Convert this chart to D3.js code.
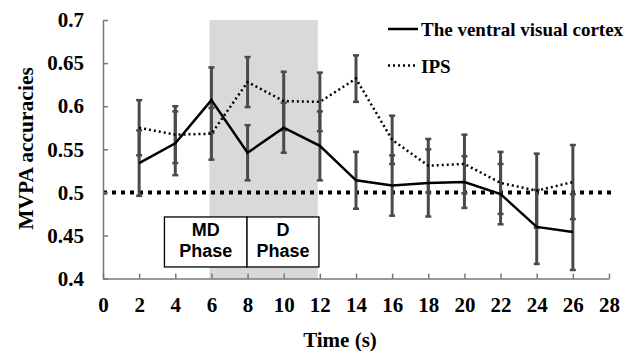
<!DOCTYPE html>
<html>
<head>
<meta charset="utf-8">
<script src="https://cdn.jsdelivr.net/npm/d3@7"></script>
<style>
  html, body { margin: 0; padding: 0; background: #fff; }
  svg { display: block; }
</style>
</head>
<body>
<svg id="chart" width="643" height="351"></svg>
<script>
// Time points (s)
const times = [2, 4, 6, 8, 10, 12, 14, 16, 18, 20, 22, 24, 26];

// Mean MVPA accuracies per region
const ventral = [0.534, 0.557, 0.607, 0.546, 0.575, 0.554, 0.514, 0.508, 0.511, 0.512, 0.498, 0.460, 0.454];
const ips     = [0.575, 0.567, 0.568, 0.628, 0.606, 0.605, 0.632, 0.561, 0.531, 0.533, 0.511, 0.502, 0.512];

// Error bar half-widths
const ventralErr = [0.038, 0.037, 0.038, 0.032, 0.029, 0.040, 0.033, 0.035, 0.039, 0.030, 0.035, 0.043, 0.044];
const ipsErr     = [0.032, 0.033, 0.030, 0.029, 0.034, 0.034, 0.027, 0.028, 0.031, 0.034, 0.036, 0.043, 0.043];

// Axis ticks
const xTicks = [0, 2, 4, 6, 8, 10, 12, 14, 16, 18, 20, 22, 24, 26, 28];
const yTicks = [0.4, 0.45, 0.5, 0.55, 0.6, 0.65, 0.7];
const yTickLabels = ["0.4", "0.45", "0.5", "0.55", "0.6", "0.65", "0.7"];

// Chance level and task phases
const chance = 0.5;
const phaseBand = [6, 12];
const phases = [
  { name: ["MD", "Phase"], start: 3.4, end: 7.97 },
  { name: ["D", "Phase"], start: 7.97, end: 11.95 }
];
const phaseBoxRange = [0.4715, 0.4135];

const seriesNames = ["The ventral visual cortex", "IPS"];

const serif = "'Liberation Serif', 'Times New Roman', serif";
const sans = "'Liberation Sans', Arial, sans-serif";

const svg = d3.select("#chart");

const x = d3.scaleLinear().domain([0, 28]).range([103, 609]);
const y = d3.scaleLinear().domain([0.4, 0.7]).range([278.6, 20]);

// Shaded task window
svg.append("rect")
  .attr("x", x(phaseBand[0]) - 2)
  .attr("y", y(0.7))
  .attr("width", x(phaseBand[1]) - x(phaseBand[0]))
  .attr("height", y(0.4) - y(0.7))
  .attr("fill", "#d9d9d9");

// Chance level line
svg.append("line")
  .attr("x1", x(0)).attr("x2", x(28.2))
  .attr("y1", y(chance)).attr("y2", y(chance))
  .attr("stroke", "#000")
  .attr("stroke-width", 4)
  .attr("stroke-dasharray", "4,5");

// Axes
const xAxis = d3.axisBottom(x)
  .tickValues(xTicks)
  .tickFormat(d3.format("d"))
  .tickSizeInner(-5)
  .tickSizeOuter(0)
  .tickPadding(18.2);

const yAxis = d3.axisLeft(y)
  .tickValues(yTicks)
  .tickFormat((d, i) => yTickLabels[i])
  .tickSizeInner(-5)
  .tickSizeOuter(0)
  .tickPadding(19);

const gx = svg.append("g")
  .attr("transform", `translate(0,${y(0.4)})`)
  .call(xAxis);
const gy = svg.append("g")
  .attr("transform", `translate(${x(0)},0)`)
  .call(yAxis);

[gx, gy].forEach(g => {
  g.select(".domain").attr("stroke", "#777").attr("stroke-width", 1.5);
  g.selectAll(".tick line").attr("stroke", "#777").attr("stroke-width", 1.5);
  g.selectAll(".tick text")
    .attr("fill", "#000")
    .style("font-family", serif)
    .style("font-weight", "bold")
    .style("font-size", "21px");
});

// Error bars for both regions
function errorBars(means, errs) {
  const g = svg.append("g");
  times.forEach((t, i) => {
    const lo = means[i] - errs[i], hi = means[i] + errs[i];
    g.append("line")
      .attr("x1", x(t)).attr("x2", x(t))
      .attr("y1", y(lo)).attr("y2", y(hi))
      .attr("stroke", "#4a4a4a").attr("stroke-width", 3);
    [lo, hi].forEach(v => {
      g.append("line")
        .attr("x1", x(t) - 3).attr("x2", x(t) + 3)
        .attr("y1", y(v)).attr("y2", y(v))
        .attr("stroke", "#4a4a4a").attr("stroke-width", 2.5);
    });
  });
}
errorBars(ips, ipsErr);
errorBars(ventral, ventralErr);

// Mean lines
const line = d3.line().x(d => x(d[0])).y(d => y(d[1]));

svg.append("path")
  .datum(times.map((t, i) => [t, ips[i]]))
  .attr("d", line)
  .attr("fill", "none")
  .attr("stroke", "#000")
  .attr("stroke-width", 2.5)
  .attr("stroke-dasharray", "2,3");

svg.append("path")
  .datum(times.map((t, i) => [t, ventral[i]]))
  .attr("d", line)
  .attr("fill", "none")
  .attr("stroke", "#000")
  .attr("stroke-width", 2.5);

// Phase labels
phases.forEach(p => {
  const g = svg.append("g");
  g.append("rect")
    .attr("x", x(p.start))
    .attr("y", y(phaseBoxRange[0]))
    .attr("width", x(p.end) - x(p.start))
    .attr("height", y(phaseBoxRange[1]) - y(phaseBoxRange[0]))
    .attr("fill", "#fff")
    .attr("stroke", "#000")
    .attr("stroke-width", 1.3);
  const cx = (x(p.start) + x(p.end)) / 2;
  p.name.forEach((s, k) => {
    g.append("text")
      .attr("x", cx)
      .attr("y", 236 + k * 20.7)
      .attr("text-anchor", "middle")
      .style("font-family", sans)
      .style("font-weight", "bold")
      .style("font-size", "18px")
      .text(s);
  });
});

// Legend
const legend = svg.append("g");
legend.append("line")
  .attr("x1", 388).attr("x2", 418).attr("y1", 29).attr("y2", 29)
  .attr("stroke", "#000").attr("stroke-width", 2.5);
legend.append("line")
  .attr("x1", 388).attr("x2", 418).attr("y1", 65.5).attr("y2", 65.5)
  .attr("stroke", "#000").attr("stroke-width", 2.5)
  .attr("stroke-dasharray", "2,3");
seriesNames.forEach((s, i) => {
  legend.append("text")
    .attr("x", 421)
    .attr("y", 36 + i * 36.5)
    .style("font-family", serif)
    .style("font-weight", "bold")
    .style("font-size", "19px")
    .text(s);
});

// Axis titles
svg.append("text")
  .attr("x", 340)
  .attr("y", 347)
  .attr("text-anchor", "middle")
  .style("font-family", serif)
  .style("font-weight", "bold")
  .style("font-size", "21px")
  .text("Time (s)");

svg.append("text")
  .attr("transform", "translate(33,148.5) rotate(-90)")
  .attr("text-anchor", "middle")
  .style("font-family", serif)
  .style("font-weight", "bold")
  .style("font-size", "21.5px")
  .text("MVPA accuracies");
</script>
</body>
</html>
